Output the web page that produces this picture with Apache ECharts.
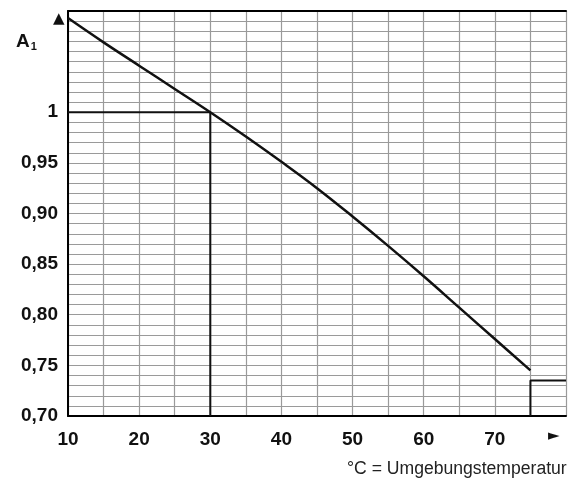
<!DOCTYPE html>
<html>
<head>
<meta charset="utf-8">
<style>
  html, body { margin: 0; padding: 0; background: #fff; }
  #chart { width: 569px; height: 493px; }
</style>
<script src="https://cdn.jsdelivr.net/npm/echarts@6/dist/echarts.min.js"></script>
</head>
<body>
<div id="chart"></div>
<script>
// Derating factor A1 against ambient temperature
const temps = [10, 15, 20, 25, 30, 35, 40, 45, 50, 55, 60, 65, 70, 75];
const factorA1 = [1.093, 1.069, 1.046, 1.023, 1.000, 0.976, 0.951, 0.925, 0.897, 0.868, 0.838, 0.807, 0.776, 0.745];

// Reading guide: 30 °C gives A1 = 1
const guideX = [10, 30, 30];
const guideY = [1.0, 1.0, 0.70];

// Small box marking the range above 75 °C
const boxX = [75, 75, 80];
const boxY = [0.70, 0.735, 0.735];

// Tick labels
const xTickValues = [10, 20, 30, 40, 50, 60, 70];
const yTickValues = [0.70, 0.75, 0.80, 0.85, 0.90, 0.95, 1.00];
const yTickLabels = ['0,70', '0,75', '0,80', '0,85', '0,90', '0,95', '1'];

const labelFont = { fontFamily: 'Liberation Sans, Arial, sans-serif', fontWeight: 'bold', fontSize: 19, color: '#111' };

const yLabelMap = {};
yTickValues.forEach((v, i) => { yLabelMap[Math.round(v * 100)] = yTickLabels[i]; });
const xLabelSet = new Set(xTickValues);

const zip = (xs, ys) => xs.map((x, i) => [x, ys[i]]);

const chart = echarts.init(document.getElementById('chart'), null, { renderer: 'canvas' });
chart.setOption({
  animation: false,
  backgroundColor: '#fff',
  grid: { left: 68, right: 0, top: 11, bottom: 77, containLabel: false },
  xAxis: [{
    type: 'value', min: 10, max: 80, interval: 5,
    axisLine: { show: true, onZero: false, lineStyle: { color: '#000', width: 2 } },
    axisTick: { show: false },
    splitLine: { show: true, lineStyle: { color: '#9a9a9a', width: 1.2 } },
    axisLabel: Object.assign({
      margin: 14,
      formatter: v => xLabelSet.has(Math.round(v)) ? String(Math.round(v)) : ''
    }, labelFont)
  }, {
    type: 'value', position: 'top', min: 10, max: 80,
    axisLine: { show: true, lineStyle: { color: '#000', width: 2 } },
    axisTick: { show: false }, axisLabel: { show: false }, splitLine: { show: false }
  }],
  yAxis: {
    type: 'value', min: 0.70, max: 1.10, interval: 0.01,
    axisLine: { show: true, onZero: false, lineStyle: { color: '#000', width: 2 } },
    axisTick: { show: false },
    splitLine: { show: true, lineStyle: { color: '#9a9a9a', width: 1.2 } },
    axisLabel: Object.assign({
      margin: 10,
      formatter: v => yLabelMap[Math.round(v * 100)] || ''
    }, labelFont)
  },
  series: [{
    type: 'line', data: zip(temps, factorA1), smooth: 0.4, showSymbol: false,
    lineStyle: { color: '#111', width: 2.5 }, z: 5
  }, {
    type: 'line', data: zip(guideX, guideY), showSymbol: false,
    lineStyle: { color: '#111', width: 2 }, z: 4
  }, {
    type: 'line', data: zip(boxX, boxY), showSymbol: false,
    lineStyle: { color: '#111', width: 2 }, z: 4
  }],
  graphic: [
    { type: 'text', left: 53, top: 12, style: { text: '▲', font: '15px "DejaVu Sans", sans-serif', fill: '#111' } },
    { type: 'text', left: 548, top: 429, style: { text: '►', font: '15px "DejaVu Sans", sans-serif', fill: '#111' } },
    { type: 'text', left: 16, top: 32, style: { text: '{a|A}{s|1}', rich: {
        a: { fontFamily: 'Liberation Sans, Arial, sans-serif', fontWeight: 'bold', fontSize: 19, fill: '#111' },
        s: { fontFamily: 'Liberation Sans, Arial, sans-serif', fontWeight: 'bold', fontSize: 11, fill: '#111', padding: [10, 0, 0, 1] }
    } } },
    { type: 'text', left: 347, top: 460, style: { text: '°C = Umgebungstemperatur',
        font: '17.6px "Liberation Sans", Arial, sans-serif', fill: '#222' } }
  ]
});
</script>
</body>
</html>
